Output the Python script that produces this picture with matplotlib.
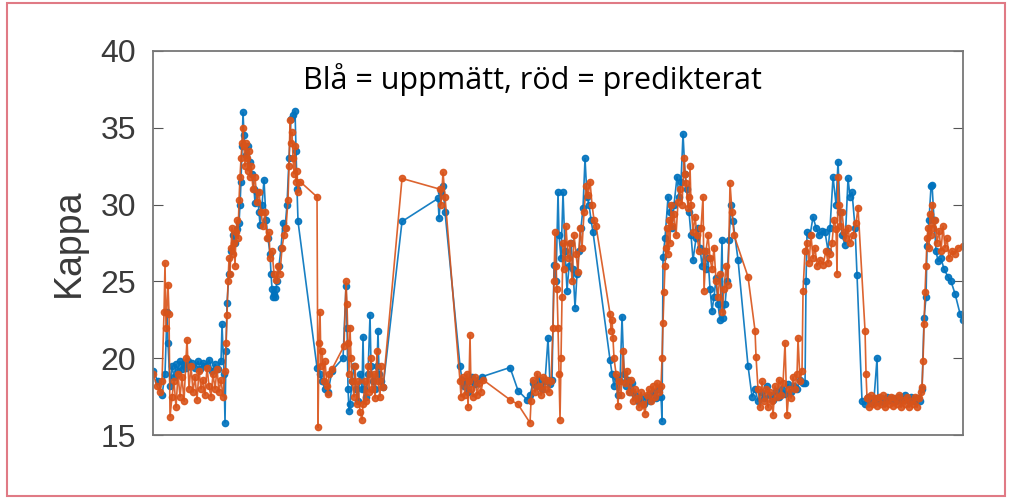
import matplotlib
matplotlib.use('Agg')
import matplotlib.pyplot as plt
from matplotlib.patches import Rectangle


# uppmätt kappa (blå), (tid, kappa)
meas = [(0, 19.2), (5, 18.5), (9, 17.6), (12, 19.0), (14, 23.0), (15, 21.0), (17, 18.2), (19, 19.5),
        (21, 18.8), (23, 19.6), (25, 19.2), (27, 19.8), (29, 19.3), (31, 19.7), (33, 19.4), (35, 19.8),
        (37, 19.5), (39, 19.7), (42, 19.4), (45, 19.8), (47, 19.3), (50, 19.7), (53, 19.5), (56, 19.9),
        (59, 19.2), (62, 19.6), (65, 19.3), (68, 19.8), (69, 22.2), (71, 19.0), (72, 15.8), (73, 20.5),
        (74, 23.6), (76, 25.5), (78, 27.0), (80, 28.0), (82, 27.5), (84, 28.4), (86, 28.8), (87, 30.0),
        (88, 31.5), (89, 33.8), (90, 36.0), (91, 34.5), (93, 33.2), (95, 33.8), (97, 32.8), (99, 32.0),
        (101, 31.0), (102, 30.1), (104, 30.8), (106, 29.5), (107, 28.7), (109, 30.0), (111, 31.6), (113, 29.0),
        (115, 27.8), (117, 26.8), (118, 25.5), (119, 24.5), (120, 24.0), (121, 24.2), (122, 24.0), (123, 24.5),
        (124, 25.0), (126, 26.0), (128, 27.2), (130, 28.8), (132, 28.5), (134, 30.0), (136, 33.0), (138, 35.6),
        (140, 35.8), (142, 36.1), (143, 33.5), (144, 31.0), (145, 28.9), (164, 19.4), (167, 19.0), (169, 18.5),
        (172, 18.0), (175, 17.8), (179, 19.2), (190, 20.0), (193, 24.7), (194, 22.0), (195, 18.0), (196, 16.6),
        (197, 17.0), (199, 18.5), (201, 19.5), (203, 18.0), (205, 17.2), (207, 19.0), (209, 18.0), (210, 21.4),
        (211, 18.0), (213, 17.5), (215, 19.0), (217, 22.8), (218, 19.5), (220, 18.5), (222, 18.0), (224, 19.5),
        (225, 21.8), (226, 19.0), (228, 18.5), (230, 18.1), (249, 28.9), (285, 30.4), (286, 29.1), (288, 30.8),
        (290, 31.2), (292, 29.5), (307, 19.5), (309, 18.6), (311, 18.2), (313, 18.5), (315, 17.8), (317, 18.5),
        (319, 18.8), (322, 18.3), (325, 18.6), (329, 18.8), (357, 19.4), (365, 17.9), (374, 17.3), (377, 17.6),
        (380, 18.4), (383, 18.2), (386, 18.6), (389, 18.0), (392, 18.5), (395, 21.3), (397, 18.3), (399, 18.6),
        (401, 26.1), (403, 25.0), (405, 30.8), (406, 28.0), (408, 26.5), (410, 30.8), (412, 27.0), (414, 24.4),
        (416, 26.0), (418, 27.5), (420, 25.8), (422, 23.3), (424, 25.5), (426, 27.0), (428, 28.5), (430, 29.8),
        (432, 33.0), (434, 30.5), (436, 30.0), (438, 29.0), (440, 28.2), (457, 19.9), (459, 19.0), (461, 18.2),
        (463, 18.8), (465, 17.6), (467, 18.5), (469, 22.7), (471, 19.0), (473, 18.2), (475, 18.6), (477, 17.8),
        (479, 18.4), (482, 17.6), (485, 17.2), (488, 17.4), (491, 17.0), (494, 17.5), (497, 17.2), (500, 17.8),
        (503, 17.4), (506, 18.0), (508, 17.5), (509, 15.9), (510, 26.6), (512, 27.8), (515, 30.5), (517, 29.5),
        (519, 28.5), (521, 30.0), (524, 31.8), (526, 30.5), (528, 31.5), (530, 34.6), (532, 32.0), (534, 31.0),
        (536, 29.5), (538, 28.0), (540, 26.4), (543, 27.8), (545, 28.5), (547, 27.2), (549, 26.0), (551, 27.0),
        (553, 25.8), (555, 26.5), (557, 24.5), (559, 23.1), (561, 24.0), (563, 25.2), (565, 23.5), (567, 22.5),
        (569, 27.7), (570, 22.6), (572, 23.5), (574, 25.0), (576, 27.7), (578, 30.0), (580, 28.9), (585, 26.4),
        (595, 19.5), (599, 17.5), (602, 18.0), (605, 17.2), (608, 17.8), (611, 17.4), (614, 18.2), (617, 17.6),
        (620, 17.3), (623, 17.9), (626, 17.5), (629, 18.0), (632, 17.7), (635, 18.3), (638, 17.8), (641, 18.2),
        (644, 18.0), (647, 18.6), (650, 18.4), (652, 18.4), (653, 25.0), (654, 28.2), (657, 28.0), (660, 29.2),
        (663, 28.5), (666, 28.0), (669, 28.3), (672, 28.2), (675, 27.0), (677, 28.5), (680, 31.8), (683, 30.0),
        (685, 32.8), (687, 29.5), (689, 28.0), (692, 27.4), (695, 31.7), (697, 30.5), (699, 30.8), (702, 28.5),
        (704, 25.4), (709, 17.2), (712, 17.0), (715, 17.5), (718, 17.1), (721, 17.4), (724, 20.0), (725, 17.2),
        (728, 17.4), (731, 17.1), (734, 17.5), (737, 17.3), (740, 17.4), (743, 17.2), (746, 17.5), (749, 17.3),
        (752, 17.6), (755, 17.3), (758, 17.5), (761, 17.2), (764, 17.4), (767, 17.2), (769, 18.0), (771, 22.6),
        (773, 24.0), (774, 27.3), (776, 29.0), (778, 31.2), (779, 31.3), (781, 29.0), (783, 27.0), (785, 26.3),
        (788, 26.5), (791, 25.8), (795, 25.3), (798, 25.0), (802, 24.2), (807, 22.9), (810, 22.5)]

# predikterat kappa (röd), (tid, kappa)
pred = [(0, 19.0), (4, 18.2), (7, 17.8), (9, 18.5), (11, 23.0), (12, 26.2), (13, 22.0), (15, 24.8),
        (16, 22.9), (17, 16.2), (19, 17.5), (21, 18.5), (23, 16.8), (25, 19.0), (27, 17.5), (29, 18.8),
        (31, 17.2), (33, 20.0), (34, 21.2), (36, 18.0), (38, 19.5), (40, 17.8), (42, 18.8), (44, 17.3),
        (46, 19.2), (48, 18.0), (50, 18.6), (52, 17.6), (54, 19.4), (56, 18.2), (58, 17.5), (60, 19.0),
        (62, 18.0), (64, 19.3), (66, 17.8), (68, 18.6), (70, 17.5), (72, 19.2), (73, 21.0), (74, 22.8),
        (75, 25.0), (76, 26.5), (77, 25.5), (78, 27.2), (79, 28.5), (80, 26.8), (81, 27.5), (82, 26.0),
        (83, 28.2), (84, 29.0), (85, 27.8), (86, 30.3), (87, 31.8), (88, 33.0), (89, 34.0), (90, 35.0),
        (91, 33.8), (92, 32.5), (93, 34.0), (94, 33.0), (95, 32.2), (96, 33.5), (97, 31.8), (98, 32.5),
        (100, 31.0), (102, 31.8), (104, 30.2), (106, 30.8), (108, 29.5), (110, 28.6), (112, 29.5), (114, 27.8),
        (116, 28.2), (117, 26.5), (119, 27.0), (121, 25.5), (123, 25.1), (125, 26.0), (127, 25.5), (129, 27.2),
        (131, 28.0), (133, 28.5), (135, 30.3), (136, 32.5), (137, 35.5), (138, 34.0), (139, 34.7), (140, 33.0),
        (141, 32.0), (142, 33.8), (143, 31.5), (144, 32.2), (145, 30.8), (147, 31.5), (164, 30.5), (165, 15.5),
        (166, 21.0), (167, 23.0), (168, 19.5), (169, 20.5), (171, 18.5), (172, 19.8), (174, 18.2), (175, 17.7),
        (176, 19.0), (179, 19.3), (191, 20.8), (193, 25.0), (194, 23.5), (195, 21.0), (196, 19.0), (197, 22.0),
        (198, 20.0), (199, 18.5), (201, 17.5), (202, 19.5), (204, 17.0), (205, 18.5), (207, 16.5), (209, 16.0),
        (210, 17.0), (212, 18.5), (213, 17.2), (215, 19.5), (216, 17.8), (218, 20.0), (219, 18.0), (221, 19.0),
        (222, 17.4), (224, 20.5), (225, 18.5), (227, 17.5), (228, 19.5), (230, 18.1), (249, 31.7), (287, 31.0),
        (288, 30.0), (290, 32.1), (292, 30.5), (307, 18.5), (308, 17.5), (310, 18.8), (312, 17.6), (314, 19.0),
        (315, 16.8), (316, 18.5), (317, 21.5), (318, 18.0), (320, 17.5), (322, 18.8), (324, 17.6), (326, 18.4),
        (328, 17.8), (330, 18.6), (357, 17.3), (365, 17.0), (377, 15.8), (378, 17.2), (380, 18.6), (382, 17.8),
        (384, 19.0), (386, 18.2), (388, 17.6), (390, 18.8), (392, 18.0), (394, 18.6), (396, 17.8), (398, 18.5),
        (400, 22.0), (401, 25.0), (402, 28.2), (403, 26.0), (404, 24.5), (405, 22.0), (406, 19.0), (407, 16.0),
        (408, 20.0), (409, 24.0), (410, 27.5), (411, 25.8), (413, 28.6), (415, 26.5), (417, 27.5), (419, 25.0),
        (421, 28.0), (423, 26.8), (425, 25.6), (427, 28.5), (429, 27.2), (431, 29.5), (433, 31.2), (435, 30.6),
        (437, 31.5), (439, 30.0), (441, 29.0), (443, 28.6), (457, 22.9), (458, 21.8), (459, 22.5), (460, 21.3),
        (461, 20.0), (463, 19.0), (465, 16.9), (466, 18.5), (468, 17.6), (470, 20.5), (472, 18.4), (474, 19.2),
        (476, 17.8), (478, 18.6), (480, 17.2), (482, 18.0), (484, 17.4), (486, 16.8), (488, 17.8), (490, 17.0),
        (492, 16.4), (494, 17.6), (496, 18.0), (498, 17.2), (500, 18.2), (502, 17.5), (504, 18.4), (506, 17.8),
        (508, 18.2), (509, 20.0), (510, 22.3), (511, 24.3), (512, 26.0), (513, 27.2), (514, 28.5), (515, 26.8),
        (516, 29.0), (517, 27.5), (518, 30.0), (519, 28.6), (521, 29.4), (523, 28.0), (525, 30.2), (527, 31.0),
        (529, 30.0), (531, 33.0), (532, 32.0), (533, 31.4), (535, 29.8), (536, 30.5), (537, 32.5), (538, 30.0),
        (540, 28.2), (542, 29.2), (544, 28.0), (546, 27.0), (548, 28.5), (550, 30.5), (551, 24.4), (553, 27.0),
        (555, 28.0), (557, 26.5), (559, 25.8), (561, 27.2), (563, 25.0), (565, 24.0), (567, 25.5), (569, 23.0),
        (571, 24.5), (573, 26.0), (575, 24.8), (577, 31.4), (579, 29.5), (581, 28.0), (595, 25.3), (602, 21.8),
        (603, 20.1), (605, 18.0), (607, 16.8), (609, 18.5), (611, 17.2), (613, 18.0), (615, 16.8), (617, 17.8),
        (619, 17.2), (620, 16.3), (622, 18.2), (624, 17.5), (626, 18.6), (628, 17.6), (630, 18.4), (632, 21.0),
        (634, 16.3), (636, 18.0), (638, 17.4), (640, 18.8), (642, 18.0), (644, 19.0), (645, 21.3), (647, 18.5),
        (649, 19.2), (650, 24.4), (652, 27.0), (654, 27.5), (656, 26.2), (658, 28.0), (660, 26.5), (662, 27.2),
        (664, 26.0), (667, 26.4), (670, 26.1), (673, 27.0), (675, 26.2), (677, 26.8), (679, 27.5), (681, 29.0),
        (683, 28.4), (684, 25.5), (685, 31.8), (686, 30.0), (687, 28.6), (689, 29.5), (691, 28.2), (693, 27.8),
        (695, 28.5), (697, 27.5), (700, 28.0), (703, 28.8), (705, 29.8), (712, 21.8), (713, 19.0), (714, 17.4),
        (716, 16.8), (718, 17.6), (720, 17.0), (722, 17.4), (724, 16.9), (726, 17.5), (728, 17.0), (730, 17.6),
        (732, 16.8), (734, 17.3), (736, 17.0), (738, 17.5), (740, 16.9), (742, 17.4), (744, 17.0), (746, 17.6),
        (748, 16.8), (750, 17.3), (752, 17.0), (754, 17.5), (756, 16.8), (758, 17.2), (760, 17.0), (762, 17.5),
        (764, 16.8), (766, 17.4), (768, 17.8), (769, 18.1), (770, 19.8), (771, 22.2), (772, 24.3), (773, 26.0),
        (774, 27.8), (775, 28.5), (776, 27.2), (777, 29.4), (778, 28.0), (779, 30.0), (780, 28.5), (782, 29.0),
        (784, 27.5), (786, 28.3), (788, 27.0), (790, 28.6), (792, 27.2), (794, 27.8), (796, 26.5), (799, 27.0),
        (802, 26.8), (805, 27.2), (810, 27.3)]

yticks = [15, 20, 25, 30, 35, 40]

t_meas, kappa_meas = zip(*meas)
t_pred, kappa_pred = zip(*pred)

fig = plt.figure(figsize=(10.1, 4.99), dpi=100)
ax = fig.add_axes([0.1515, 0.128, 0.802, 0.770])

ax.plot(t_meas, kappa_meas, color='#0072BD', lw=1.2, marker='.', ms=9, alpha=0.9)
ax.plot(t_pred, kappa_pred, color='#D95319', lw=1.2, marker='.', ms=9, alpha=0.9)

ax.set_xlim(0, 810)
ax.set_ylim(15, 40)
ax.set_xticks([])
ax.set_yticks(yticks)
ax.tick_params(axis='y', direction='in', length=7, right=True, labelsize=23, pad=12,
               colors='#555555', labelcolor='#3a3a3a')
for s in ax.spines.values():
    s.set_color('#777777')
    s.set_linewidth(1.3)
for lbl in ax.get_yticklabels():
    lbl.set_family('Liberation Sans')

ax.set_ylabel('Kappa', fontsize=27, family='Liberation Sans', color='#3a3a3a', labelpad=10)
ax.text(0.469, 0.925, 'Blå = uppmätt, röd = predikterat', transform=ax.transAxes,
        ha='center', va='center', fontsize=22, family='Open Sans', color='black')

# ram runt figuren
fig.patches.append(Rectangle((0.007, 0.006), 0.988, 0.988, transform=fig.transFigure,
                             fill=False, edgecolor='#e07a85', lw=1.5))

fig.savefig('out.png', dpi=100)
